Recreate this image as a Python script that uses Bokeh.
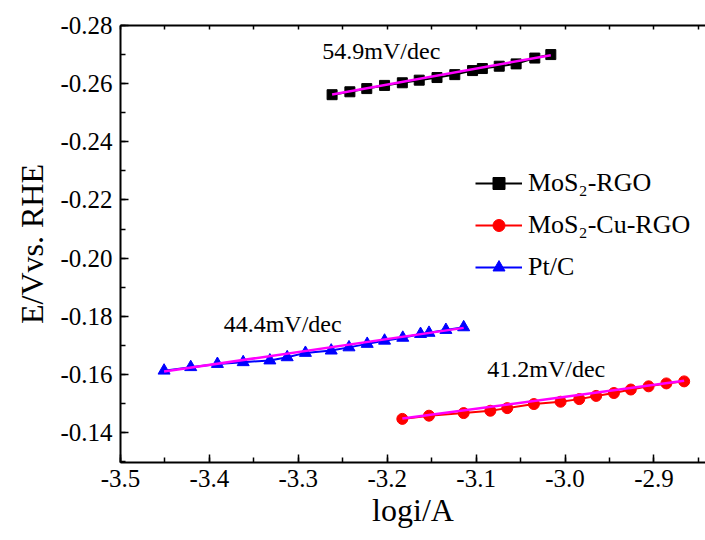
from bokeh.plotting import figure
from bokeh.models import (Range1d, LinearAxis, SingleIntervalTicker, NumeralTickFormatter,
                          CustomJSTickFormatter, Label, Legend, LegendItem)
from bokeh.embed import file_html
from bokeh.resources import INLINE

FONT = "Liberation Serif"

# MoS2-RGO
rgo_x = [-3.262, -3.242, -3.223, -3.203, -3.183, -3.164, -3.144, -3.124, -3.104, -3.093,
         -3.074, -3.055, -3.034, -3.016]
rgo_y = [-0.2562, -0.2572, -0.2583, -0.2594, -0.2603, -0.2612, -0.2621, -0.2631, -0.2645, -0.2652,
         -0.2660, -0.2668, -0.2688, -0.2700]
rgo_fit_x = [-3.262, -3.016]
rgo_fit_y = [-0.2563, -0.2698]

# MoS2-Cu-RGO
cu_x = [-3.183, -3.153, -3.114, -3.084, -3.065, -3.035, -3.005, -2.984, -2.965, -2.945,
        -2.926, -2.906, -2.886, -2.866]
cu_y = [-0.1447, -0.1458, -0.1467, -0.1475, -0.1484, -0.1498, -0.1506, -0.1515, -0.1526, -0.1536,
        -0.1548, -0.1559, -0.1569, -0.1576]
cu_fit_x = [-3.183, -2.866]
cu_fit_y = [-0.1448, -0.1578]

# Pt/C
pt_x = [-3.451, -3.421, -3.391, -3.362, -3.332, -3.3125, -3.292, -3.263, -3.243, -3.2225,
        -3.203, -3.1825, -3.1625, -3.153, -3.134, -3.114]
pt_y = [-0.1613, -0.1625, -0.1636, -0.1642, -0.1648, -0.1659, -0.1674, -0.1682, -0.1693, -0.1705,
        -0.1716, -0.1726, -0.1739, -0.1743, -0.1753, -0.1762]
pt_fit_x = [-3.451, -3.114]
pt_fit_y = [-0.1610, -0.1760]

series_names = ["MoS\u2082-RGO", "MoS\u2082-Cu-RGO", "Pt/C"]
slope_labels = ["54.9mV/dec", "41.2mV/dec", "44.4mV/dec"]
x_title = "logi/A"
y_title = "E/Vvs. RHE"

p = figure(width=705, height=540, output_backend="svg", toolbar_location=None,
           x_range=Range1d(-3.5, -2.842), y_range=Range1d(-0.1297, -0.28),
           min_border_left=120, min_border_top=25, min_border_right=0, min_border_bottom=78,
           x_axis_type=None, y_axis_type=None)
p.outline_line_color = None
p.xgrid.visible = False
p.ygrid.visible = False

def style_axis(ax):
    ax.axis_line_color = "black"
    ax.axis_line_width = 2
    ax.major_tick_line_color = "black"
    ax.minor_tick_line_color = "black"
    ax.major_tick_line_width = 1.5
    ax.minor_tick_line_width = 1.5
    ax.major_tick_in = 8
    ax.major_tick_out = 0
    ax.minor_tick_in = 5
    ax.minor_tick_out = 0
    ax.major_label_text_font = FONT
    ax.major_label_text_font_size = "25px"
    ax.major_label_text_color = "black"
    ax.axis_label_text_font = FONT
    ax.axis_label_text_font_style = "normal"
    ax.axis_label_text_font_size = "32px"
    ax.axis_label_text_color = "black"

xax = LinearAxis(ticker=SingleIntervalTicker(interval=0.1, num_minor_ticks=2),
                 formatter=NumeralTickFormatter(format="0.0"), axis_label=x_title)
style_axis(xax)
xax.major_label_standoff = 7
xax.axis_label_standoff = 2
p.add_layout(xax, "below")

yax = LinearAxis(ticker=SingleIntervalTicker(interval=0.02, num_minor_ticks=2),
                 formatter=NumeralTickFormatter(format="0.00"), axis_label=y_title)
style_axis(yax)
yax.major_label_standoff = 8
yax.axis_label_standoff = 7
p.add_layout(yax, "left")

tax = LinearAxis(ticker=SingleIntervalTicker(interval=0.05, num_minor_ticks=0),
                 formatter=CustomJSTickFormatter(code="return ''"))
style_axis(tax)
tax.major_tick_in = 4
tax.major_label_standoff = 0
tax.major_label_text_font_size = "1px"
p.add_layout(tax, "above")

# data
l1 = p.line(rgo_x, rgo_y, line_color="black", line_width=2)
s1 = p.scatter(rgo_x, rgo_y, marker="square", size=10, fill_color="black", line_color="black")
l2 = p.line(cu_x, cu_y, line_color="red", line_width=2)
s2 = p.scatter(cu_x, cu_y, marker="circle", size=11, fill_color="red", line_color="red")
l3 = p.line(pt_x, pt_y, line_color="blue", line_width=2)
s3 = p.scatter(pt_x, pt_y, marker="triangle", size=12, fill_color="blue", line_color="blue")

for fx, fy in [(rgo_fit_x, rgo_fit_y), (cu_fit_x, cu_fit_y), (pt_fit_x, pt_fit_y)]:
    p.line(fx, fy, line_color="#FF00FF", line_width=2.5)

for txt, lx, ly in [(slope_labels[0], -3.273, -0.2712),
                    (slope_labels[1], -3.0875, -0.1619),
                    (slope_labels[2], -3.384, -0.1774)]:
    p.add_layout(Label(x=lx, y=ly, text=txt, text_font=FONT, text_font_size="24px",
                       text_baseline="middle", text_align="left", text_color="black"))

legend = Legend(items=[LegendItem(label=series_names[0], renderers=[l1, s1]),
                       LegendItem(label=series_names[1], renderers=[l2, s2]),
                       LegendItem(label=series_names[2], renderers=[l3, s3])],
                location=(355, 180), border_line_color=None, background_fill_alpha=0,
                padding=0, margin=0, spacing=12, glyph_width=47, glyph_height=30,
                label_height=30, label_standoff=6, label_text_font=FONT,
                label_text_color="black",
                label_text_font_size="26px", label_text_baseline="middle")
p.add_layout(legend, "center")

open("out.html", "w").write(file_html(p, INLINE))
